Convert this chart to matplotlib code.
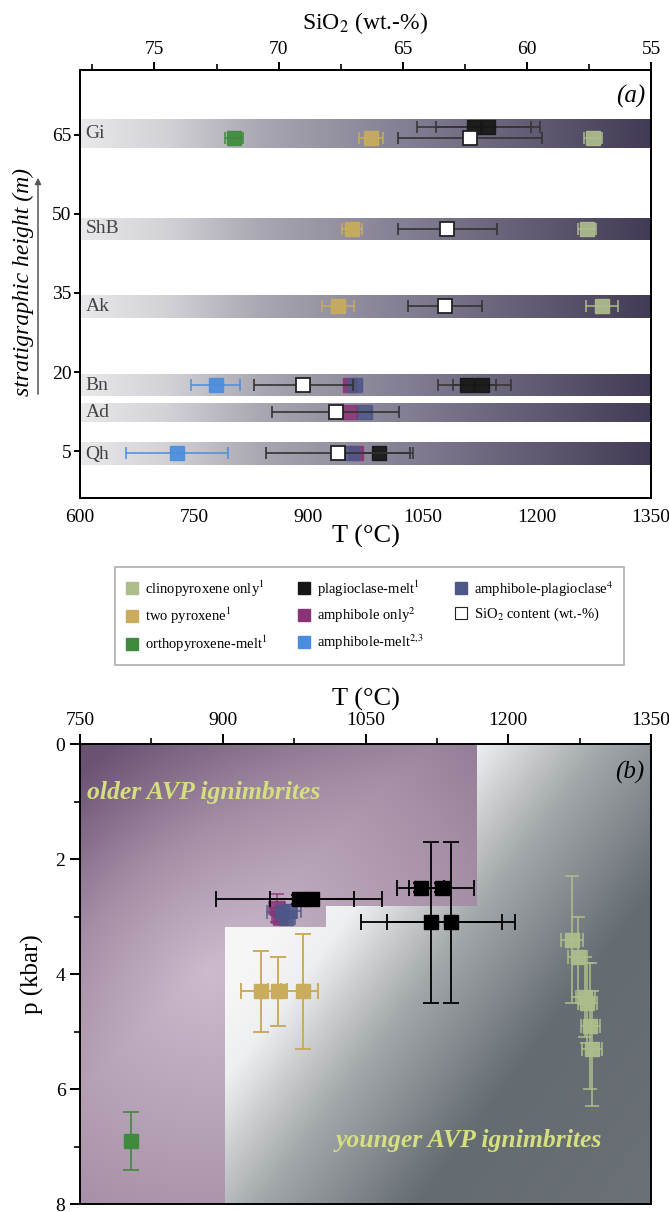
import numpy as np
import matplotlib.pyplot as plt
from matplotlib.colors import LinearSegmentedColormap, to_rgb
from matplotlib.lines import Line2D
from matplotlib.patches import Polygon

plt.rcParams['font.family'] = ['Liberation Serif', 'DejaVu Serif']
plt.rcParams['mathtext.fontset'] = 'stix'
plt.rcParams['axes.linewidth'] = 1.4

# thermometer colours
c_cpx = '#aebd8c'
c_2px = '#c9ac5c'
c_opx = '#3f8a3c'
c_plag = '#161616'
c_amph = '#8a3477'
c_amel = '#4a8ddd'
c_amplag = '#4d5888'

# ---- (a) stratigraphy vs temperature ----
units = ['Gi', 'ShB', 'Ak', 'Bn', 'Ad', 'Qh']
band_top = [68.0, 49.2, 34.6, 19.4, 14.1, 6.5]
band_bot = [62.5, 45.1, 30.3, 15.4, 10.5, 2.3]
height_ticks = [5, 20, 35, 50, 65]

cpx_h = [64.4, 47.2, 32.6]
cpx_T = [1274, 1266, 1285]
cpx_err = [12, 12, 21]

twopx_h = [64.4, 47.2, 32.6]
twopx_T = [982, 957, 939]
twopx_err = [16, 13, 21]

opx_h = [64.4]
opx_T = [802]
opx_err = [12]

plag_h = [66.5, 66.5, 17.5, 17.5, 4.6]
plag_T = [1117, 1136, 1108, 1128, 993]
plag_err = [75, 68, 38, 38, 45]

amph_h = [17.5, 12.4, 4.6]
amph_T = [955, 955, 962]
amph_err = [8, 10, 8]

amel_h = [17.5, 4.6]
amel_T = [778, 727]
amel_err = [32, 67]

amplag_h = [17.5, 12.4, 4.6]
amplag_T = [961, 974, 957]
amplag_err = [10, 10, 10]

sio2_h = [64.4, 47.2, 32.6, 17.5, 12.4, 4.6]
sio2 = [62.3, 63.2, 63.3, 69.0, 67.7, 67.6]
sio2_err = [2.9, 2.0, 1.5, 2.0, 2.55, 2.9]

# ---- (b) pressure vs temperature ----
cpx_bT = [1267, 1273, 1281, 1283, 1286, 1288]
cpx_bp = [3.4, 3.7, 4.4, 4.5, 4.9, 5.3]
cpx_bTe = [12, 10, 10, 10, 10, 10]
cpx_bpe = [1.1, 0.7, 0.7, 0.7, 1.1, 1.0]

twopx_bT = [940, 958, 984]
twopx_bp = [4.3, 4.3, 4.3]
twopx_bTe = [21, 10, 16]
twopx_bpe = [0.7, 0.6, 1.0]

opx_bT = [804]
opx_bp = [6.9]
opx_bpe = [0.5]

plag_bT = [980, 994, 1108, 1130, 1119, 1140]
plag_bp = [2.7, 2.7, 2.5, 2.5, 3.1, 3.1]
plag_bTe = [87, 44, 25, 34, 74, 67]
plag_bpe = [0.08, 0.08, 0.08, 0.08, 1.4, 1.4]

amph_bT = [957, 960]
amph_bp = [2.85, 3.0]
amph_bTe = [8, 8]
amph_bpe = [0.25, 0.15]

amplag_bT = [962, 970, 966]
amplag_bp = [2.92, 2.9, 3.02]
amplag_bTe = [16, 12, 10]
amplag_bpe = [0.1, 0.1, 0.08]

# field outlines (T, p)
older_T = [750, 1167, 1167, 1008, 1008, 902, 902, 750]
older_p = [0, 0, 2.82, 2.82, 3.18, 3.18, 8, 8]
younger_T = [1167, 1350, 1350, 902, 902, 1008, 1008, 1167]
younger_p = [0, 0, 8, 8, 3.18, 3.18, 2.82, 2.82]


def pts(ax, x, y, color, xerr=None, yerr=None, ecolor=None, ms=10, alpha=0.92,
        z=3, lw=1.2, cap=4):
    ax.errorbar(x, y, xerr=xerr, yerr=yerr, fmt='s', ms=ms, mfc=color, mec=color,
                ecolor=ecolor or color, elinewidth=lw, capsize=cap, capthick=lw,
                alpha=alpha, zorder=z)


fig = plt.figure(figsize=(6.69, 12.12), dpi=100)
ax = fig.add_axes([0.1196, 0.5891, 0.8535, 0.3531])

band_cmap = LinearSegmentedColormap.from_list(
    'band', [(0, '#e9e9eb'), (0.15, '#d2d2d7'), (0.32, '#a8a6b0'),
             (0.6, '#7f7a90'), (1, '#433b55')])
grad = np.linspace(0, 1, 256)[None, :]
for name, top, bot in zip(units, band_top, band_bot):
    ax.imshow(grad, cmap=band_cmap, extent=[600, 1350, bot, top], aspect='auto',
              zorder=1)
    ax.text(607, (top + bot) / 2, name, color='#444444', fontsize=14,
            va='center', ha='left', zorder=2)

pts(ax, cpx_T, cpx_h, c_cpx, xerr=cpx_err)
pts(ax, twopx_T, twopx_h, c_2px, xerr=twopx_err)
pts(ax, opx_T, opx_h, c_opx, xerr=opx_err)
pts(ax, plag_T, plag_h, c_plag, xerr=plag_err, ecolor='#333333')
pts(ax, amph_T, amph_h, c_amph, xerr=amph_err, alpha=0.85)
pts(ax, amplag_T, amplag_h, c_amplag, xerr=amplag_err, alpha=0.85)
pts(ax, amel_T, amel_h, c_amel, xerr=amel_err)

ax.set_xlim(600, 1350)
ax.set_ylim(-3.9, 77.3)
ax.set_xticks([600, 750, 900, 1050, 1200, 1350])
ax.set_yticks(height_ticks)
ax.tick_params(axis='x', length=0, pad=8, labelsize=14)
ax.tick_params(axis='y', direction='out', length=4, width=1.4, labelsize=14, pad=2)
ax.set_xlabel('T (°C)', fontsize=19, labelpad=-1)
ax.text(1343, 72.3, '(a)', style='italic', fontsize=18, ha='right', va='center')

axt = ax.twiny()
pts(axt, sio2, sio2_h, 'white', xerr=sio2_err, ecolor='#333333', alpha=1, z=4)
for ln in axt.lines:
    if ln.get_marker() == 's':
        ln.set_markeredgecolor('#222222')
        ln.set_markeredgewidth(1.3)
axt.set_xlim(78, 55)
axt.set_xticks([75, 70, 65, 60, 55])
axt.set_xticks([77.5, 72.5, 67.5, 62.5, 57.5], minor=True)
axt.tick_params(axis='x', which='major', direction='out', length=6, width=1.4,
                labelsize=14, pad=3)
axt.tick_params(axis='x', which='minor', direction='out', length=4, width=1.2)
axt.set_xlabel('SiO$_2$ (wt.-%)', fontsize=17, labelpad=8)
ax.set_ylim(-3.9, 77.3)

fig.text(23 / 669, 1 - 282 / 1212, 'stratigraphic height (m)', rotation=90,
         style='italic', fontsize=17, ha='center', va='center')
ax.annotate('', xy=(38 / 669, 1 - 175 / 1212), xytext=(38 / 669, 1 - 397 / 1212),
            xycoords='figure fraction', textcoords='figure fraction',
            arrowprops=dict(arrowstyle='-|>', color='#555555', lw=1.1,
                            mutation_scale=9))

# legend
handles = [
    Line2D([], [], marker='s', ls='none', ms=9, mfc=c_cpx, mec=c_cpx),
    Line2D([], [], marker='s', ls='none', ms=9, mfc=c_2px, mec=c_2px),
    Line2D([], [], marker='s', ls='none', ms=9, mfc=c_opx, mec=c_opx),
    Line2D([], [], marker='s', ls='none', ms=9, mfc=c_plag, mec=c_plag),
    Line2D([], [], marker='s', ls='none', ms=9, mfc=c_amph, mec=c_amph),
    Line2D([], [], marker='s', ls='none', ms=9, mfc=c_amel, mec=c_amel),
    Line2D([], [], marker='s', ls='none', ms=9, mfc=c_amplag, mec=c_amplag),
    Line2D([], [], marker='s', ls='none', ms=9, mfc='white', mec='#222222', mew=0.8),
]
labels = ['clinopyroxene only$^{1}$', 'two pyroxene$^{1}$',
          'orthopyroxene-melt$^{1}$', 'plagioclase-melt$^{1}$',
          'amphibole only$^{2}$', 'amphibole-melt$^{2{,}3}$',
          'amphibole-plagioclase$^{4}$', 'SiO$_2$ content (wt.-%)']
leg = fig.legend(handles, labels, ncol=3, loc='upper left',
                 bbox_to_anchor=(108 / 669, 1 - 560 / 1212), fontsize=10.5,
                 frameon=True, fancybox=False, edgecolor='#9a9a9a',
                 handlelength=0.8, handletextpad=0.5, columnspacing=2.1,
                 labelspacing=0.5, borderpad=0.75)
leg.get_frame().set_linewidth(1.2)

# ---- (b) ----
axb = fig.add_axes([0.1196, 0.0066, 0.8535, 0.3795])
nx, ny = 400, 320
gx, gy = np.meshgrid(np.linspace(0, 571, nx), np.linspace(0, 460, ny))


def ramp(t, stops):
    pos = [s[0] for s in stops]
    cols = np.array([to_rgb(s[1]) for s in stops])
    return np.stack([np.interp(t, pos, cols[:, i]) for i in range(3)], axis=-1)


r = np.hypot(gx - 130, gy - 230) / 300
tl = np.clip(1 - (gx + gy) / 350, 0, 1)
t_old = np.clip(0.55 * r + 0.6 * tl, 0, 1)
img_old = ramp(t_old, [(0, '#cdbacc'), (0.5, '#a58fa6'), (1, '#6b5173')])
im = axb.imshow(img_old, extent=[750, 1350, 8, 0], aspect='auto', zorder=0)
im.set_clip_path(Polygon(np.column_stack([older_T, older_p]),
                         transform=axb.transData))

d = (gx - 397) * 0.8 + gy * 0.6
img_young = ramp(d, [(-50, '#f6f6f7'), (0, '#eeeff0'), (100, '#a3a8ab'),
                     (230, '#646b71'), (420, '#6b7176')])
im2 = axb.imshow(img_young, extent=[750, 1350, 8, 0], aspect='auto', zorder=0)
im2.set_clip_path(Polygon(np.column_stack([younger_T, younger_p]),
                          transform=axb.transData))

pts(axb, cpx_bT, cpx_bp, c_cpx, xerr=cpx_bTe, yerr=cpx_bpe, alpha=0.95, cap=5)
pts(axb, twopx_bT, twopx_bp, c_2px, xerr=twopx_bTe, yerr=twopx_bpe, alpha=1,
    cap=6, lw=1.4)
pts(axb, opx_bT, opx_bp, c_opx, yerr=opx_bpe, alpha=1, cap=6)
pts(axb, amph_bT, amph_bp, c_amph, xerr=amph_bTe, yerr=amph_bpe, alpha=0.85, cap=5)
pts(axb, amplag_bT, amplag_bp, c_amplag, xerr=amplag_bTe, yerr=amplag_bpe,
    alpha=0.85, cap=5)
pts(axb, plag_bT, plag_bp, 'black', xerr=plag_bTe, yerr=plag_bpe, ecolor='black',
    alpha=1, cap=6, lw=1.3, z=5)

axb.text(757, 0.85, 'older AVP ignimbrites', fontsize=18.5, fontweight='bold',
         style='italic', color='#d6df7e', va='center', ha='left')
axb.text(1158, 6.89, 'younger AVP ignimbrites', fontsize=18.5, fontweight='bold',
         style='italic', color='#d6df7e', va='center', ha='center')
axb.text(1343, 0.5, '(b)', style='italic', fontsize=18, ha='right', va='center')

axb.set_xlim(750, 1350)
axb.set_ylim(8, 0)
axb.xaxis.tick_top()
axb.xaxis.set_label_position('top')
axb.set_xticks([750, 900, 1050, 1200, 1350])
axb.set_xticks([825, 975, 1125, 1275], minor=True)
axb.set_yticks([0, 2, 4, 6, 8])
axb.set_yticks([1, 3, 5, 7], minor=True)
axb.tick_params(which='major', direction='out', length=7, width=1.4, labelsize=14)
axb.tick_params(which='minor', direction='out', length=4, width=1.2)
axb.set_xlabel('T (°C)', fontsize=19, labelpad=5)
axb.set_ylabel('p (kbar)', fontsize=18, labelpad=8)

fig.savefig('out.png', dpi=100)
